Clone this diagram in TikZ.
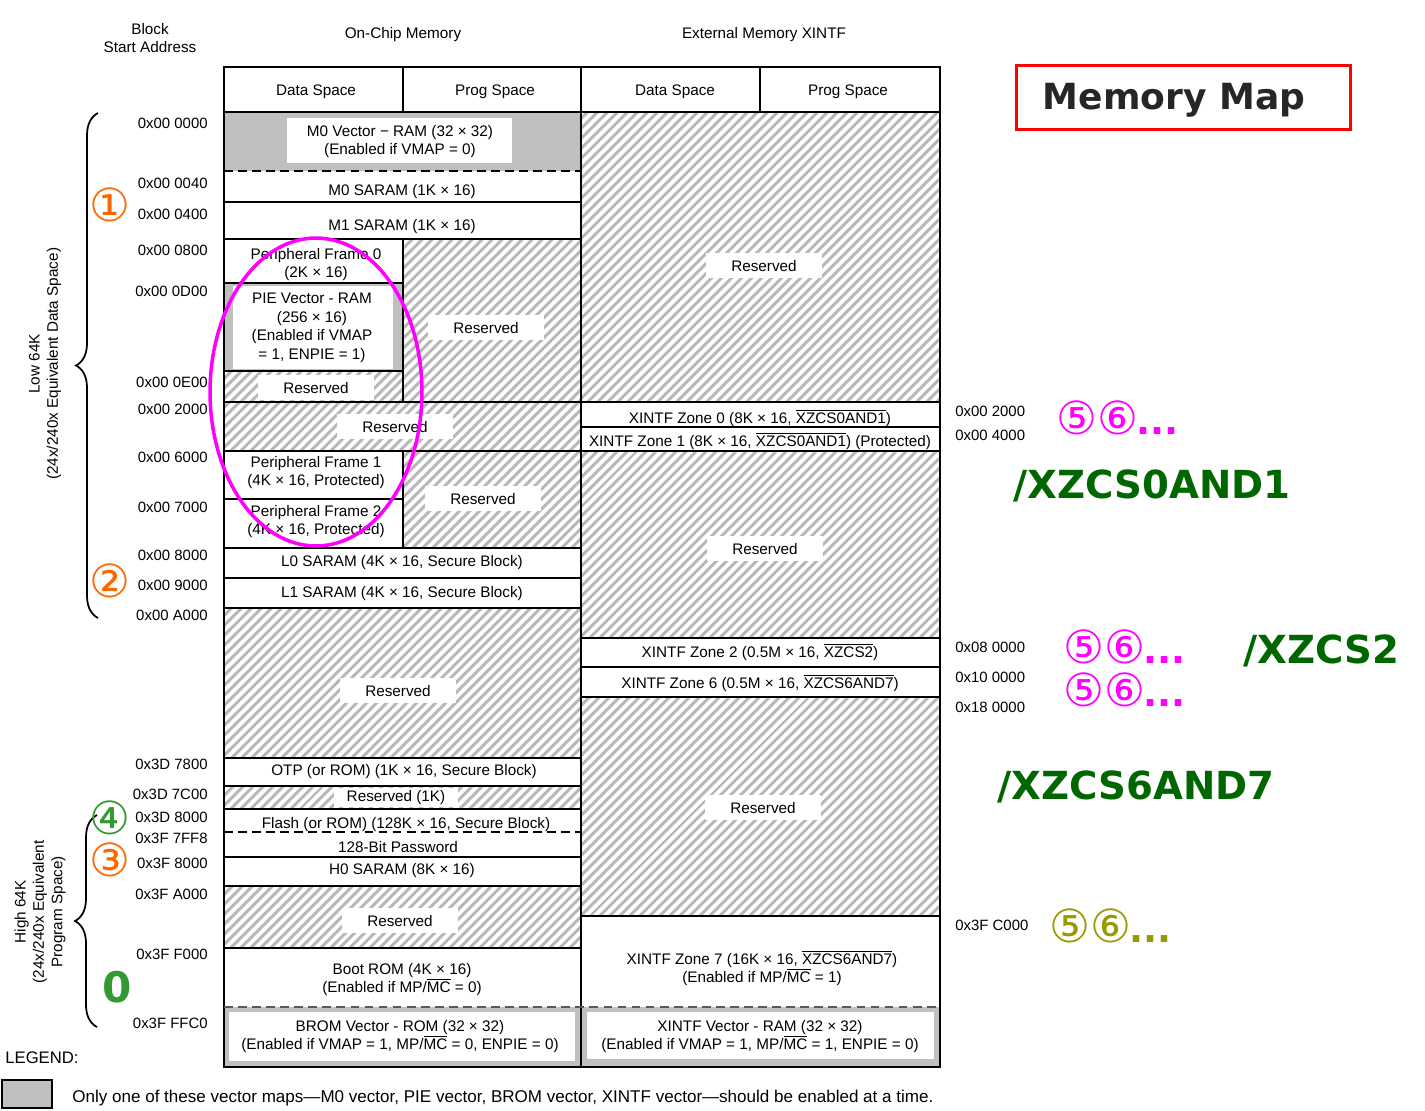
\documentclass[tikz,border=0pt]{standalone}
\usepackage{fontspec}
\setmainfont{Liberation Sans}
\newfontfamily\markfont{DejaVu Sans}
\usetikzlibrary{patterns.meta,decorations.pathreplacing}

\colorlet{vecgray}{black!25}
\colorlet{hatchgray}{black!28}
\definecolor{numorange}{HTML}{FF6600}
\definecolor{numgreen}{HTML}{339933}
\definecolor{numolive}{HTML}{999900}
\definecolor{csgreen}{HTML}{006600}
\definecolor{ringmag}{HTML}{FF00FF}

\newcommand{\ovl}[1]{$\overline{\mbox{#1}}$}
\newcommand{\moredots}{\kern-1pt{\bfseries\fontsize{21}{24}\selectfont...}}

\tikzset{
  grid/.style={line width=1.6pt},
  halfsep/.style={line width=1.6pt, dash pattern=on 5pt off 3pt},
  rsvd/.style={pattern={Lines[angle=45,distance=4pt,line width=1.8pt]}, pattern color=hatchgray},
  lbl/.style={font=\fontsize{8.7}{10.5}\selectfont, align=center, inner sep=1pt, yshift=-1pt},
  tag/.style={lbl, fill=white, inner xsep=0.5cm, inner ysep=0.14cm},
  addr/.style={font=\fontsize{8.5}{10}\selectfont, inner sep=0pt, yshift=-1pt},
  numark/.style={font=\markfont\fontsize{26}{28}\selectfont, inner sep=0pt,
                 text height=0.75em, text depth=0.1em, yshift=-6.2pt},
  cs/.style={font=\markfont\bfseries\fontsize{22}{24}\selectfont, text=csgreen, inner sep=0pt},
  bracket/.style={decorate, decoration={brace, amplitude=0.44cm}, line width=1pt},
}

\begin{document}
\begin{tikzpicture}[x=0.02cm, y=-0.02cm]
    \useasboundingbox (0,0) rectangle (1425,1110);

    % reserved areas (hatched)
    \fill[rsvd] (403,239) rectangle (581,402);
    \fill[rsvd] (224,371) rectangle (403,402);
    \fill[rsvd] (224,402) rectangle (581,451);
    \fill[rsvd] (403,451) rectangle (581,548);
    \fill[rsvd] (224,608) rectangle (581,758);
    \fill[rsvd] (224,786) rectangle (581,809);
    \fill[rsvd] (224,886) rectangle (581,948);
    \fill[rsvd] (581,112) rectangle (940,402);
    \fill[rsvd] (581,451) rectangle (940,638);
    \fill[rsvd] (581,697) rectangle (940,916);

    % vector maps (gray frame, white inside)
    \fill[vecgray] (224,112) rectangle (581,171);
    \fill[white] (287,118) rectangle (512,163);
    \fill[vecgray] (224,283) rectangle (403,371);
    \fill[white] (233,286) rectangle (393,369);
    \fill[vecgray] (224,1007) rectangle (581,1067);
    \fill[white] (229,1012) rectangle (575,1061);
    \fill[vecgray] (581,1007) rectangle (940,1067);
    \fill[white] (587,1012) rectangle (934,1059);

    % frame and row lines
    \draw[grid] (224,67) rectangle (940,1067);
    \draw[grid] (581,67) -- (581,1067);
    \draw[grid] (403,67) -- (403,112) (760,67) -- (760,112);
    \draw[grid] (403,239) -- (403,402) (403,451) -- (403,548);
    \draw[grid] (224,112) -- (940,112);
    \draw[grid] (224,202) -- (581,202) (224,239) -- (581,239)
                (224,402) -- (581,402) (224,451) -- (581,451)
                (224,548) -- (581,548) (224,578) -- (581,578)
                (224,608) -- (581,608) (224,758) -- (581,758)
                (224,786) -- (581,786) (224,809) -- (581,809)
                (224,857) -- (581,857) (224,886) -- (581,886)
                (224,948) -- (581,948);
    \draw[grid] (224,283) -- (403,283) (224,371) -- (403,371) (224,499) -- (403,499);
    \draw[grid] (581,402) -- (940,402) (581,427) -- (940,427)
                (581,451) -- (940,451) (581,638) -- (940,638)
                (581,667) -- (940,667) (581,697) -- (940,697)
                (581,916) -- (940,916);
    \draw[halfsep] (224,171) -- (581,171);
    \draw[halfsep] (224,832) -- (581,832);
    \draw[halfsep, black!65] (224,1007) -- (940,1007);

    % column headers
    \node[lbl] (hblock) at (150,36) {Block\\Start Address};
    \node[lbl] (honchip) at (403,33) {On-Chip Memory};
    \node[lbl] (hext) at (764,33) {External Memory XINTF};
    \node[lbl] (hdata1) at (316,90) {Data Space};
    \node[lbl] (hprog1) at (495,90) {Prog Space};
    \node[lbl] (hdata2) at (675,90) {Data Space};
    \node[lbl] (hprog2) at (848,90) {Prog Space};

    % on-chip blocks
    \node[lbl] (m0vec) at (400,140) {M0 Vector − RAM (32 × 32)\\(Enabled if VMAP = 0)};
    \node[lbl] (m0sa) at (402,190) {M0 SARAM (1K × 16)};
    \node[lbl] (m1sa) at (402,225) {M1 SARAM (1K × 16)};
    \node[lbl] (pf0) at (316,263) {Peripheral Frame 0\\(2K × 16)};
    \node[lbl] (pievec) at (312,326) {PIE Vector - RAM\\(256 × 16)\\(Enabled if VMAP\\= 1, ENPIE = 1)};
    \node[tag] (rsv1) at (316,386) {Reserved};
    \node[tag] (rsv2) at (486,326) {Reserved};
    \node[tag] (rsv3) at (395,425) {Reserved};
    \node[lbl] (pf1) at (316,471) {Peripheral Frame 1\\(4K × 16, Protected)};
    \node[lbl] (pf2) at (316,520) {Peripheral Frame 2\\(4K × 16, Protected)};
    \node[tag] (rsv4) at (483,497) {Reserved};
    \node[lbl] (l0sa) at (402,561) {L0 SARAM (4K × 16, Secure Block)};
    \node[lbl] (l1sa) at (402,592) {L1 SARAM (4K × 16, Secure Block)};
    \node[tag] (rsv5) at (398,689) {Reserved};
    \node[lbl] (otp) at (404,770) {OTP (or ROM) (1K × 16, Secure Block)};
    \node[tag, inner xsep=0.25cm, inner ysep=0.05cm] (rsv6) at (396,796) {Reserved (1K)};
    \node[lbl] (flash) at (406,823) {Flash (or ROM) (128K × 16, Secure Block)};
    \node[lbl] (passwd) at (398,845) {128-Bit Password};
    \node[lbl] (h0sa) at (402,869) {H0 SARAM (8K × 16)};
    \node[tag] (rsv7) at (400,919) {Reserved};
    \node[lbl] (bootrom) at (402,978) {Boot ROM (4K × 16)\\(Enabled if MP/\ovl{MC} = 0)};
    \node[lbl] (bromvec) at (400,1035) {BROM Vector - ROM (32 × 32)\\(Enabled if VMAP = 1, MP/\ovl{MC} = 0, ENPIE = 0)};

    % external blocks
    \node[tag] (rsv8) at (764,264) {Reserved};
    \node[lbl] (zone0) at (760,416) {XINTF Zone 0 (8K × 16, \ovl{XZCS0AND1})};
    \node[lbl] (zone1) at (760,439) {XINTF Zone 1 (8K × 16, \ovl{XZCS0AND1}) (Protected)};
    \node[tag] (rsv9) at (765,547) {Reserved};
    \node[lbl] (zone2) at (760,650) {XINTF Zone 2 (0.5M × 16, \ovl{XZCS2})};
    \node[lbl] (zone6) at (760,681) {XINTF Zone 6 (0.5M × 16, \ovl{XZCS6AND7})};
    \node[tag] (rsv10) at (763,806) {Reserved};
    \node[lbl] (zone7) at (762,966) {XINTF Zone 7 (16K × 16, \ovl{XZCS6AND7})\\(Enabled if MP/\ovl{MC} = 1)};
    \node[lbl] (xvec) at (760,1035) {XINTF Vector - RAM (32 × 32)\\(Enabled if VMAP = 1, MP/\ovl{MC} = 1, ENPIE = 0)};

    % start addresses, left
    \node[addr, anchor=east] (a00) at (208,122) {0x00 0000};
    \node[addr, anchor=east] (a01) at (208,182) {0x00 0040};
    \node[addr, anchor=east] (a02) at (208,213) {0x00 0400};
    \node[addr, anchor=east] (a03) at (208,249) {0x00 0800};
    \node[addr, anchor=east] (a04) at (208,290) {0x00 0D00};
    \node[addr, anchor=east] (a05) at (208,381) {0x00 0E00};
    \node[addr, anchor=east] (a06) at (208,408) {0x00 2000};
    \node[addr, anchor=east] (a07) at (208,456) {0x00 6000};
    \node[addr, anchor=east] (a08) at (208,506) {0x00 7000};
    \node[addr, anchor=east] (a09) at (208,554) {0x00 8000};
    \node[addr, anchor=east] (a10) at (208,584) {0x00 9000};
    \node[addr, anchor=east] (a11) at (208,614) {0x00 A000};
    \node[addr, anchor=east] (a12) at (208,763) {0x3D 7800};
    \node[addr, anchor=east] (a13) at (208,793) {0x3D 7C00};
    \node[addr, anchor=east] (a14) at (208,816) {0x3D 8000};
    \node[addr, anchor=east] (a15) at (208,837) {0x3F 7FF8};
    \node[addr, anchor=east] (a16) at (208,862) {0x3F 8000};
    \node[addr, anchor=east] (a17) at (208,893) {0x3F A000};
    \node[addr, anchor=east] (a18) at (208,953) {0x3F F000};
    \node[addr, anchor=east] (a19) at (208,1022) {0x3F FFC0};

    % start addresses, right
    \node[addr, anchor=west] (b00) at (955,410) {0x00 2000};
    \node[addr, anchor=west] (b01) at (955,434) {0x00 4000};
    \node[addr, anchor=west] (b02) at (955,646) {0x08 0000};
    \node[addr, anchor=west] (b03) at (955,676) {0x10 0000};
    \node[addr, anchor=west] (b04) at (955,706) {0x18 0000};
    \node[addr, anchor=west] (b05) at (955,924) {0x3F C000};

    % braces
    \draw[bracket] (98,618) -- (98,113);
    \node[lbl, rotate=90] (lowtxt) at (45,362) {Low 64K\\(24x/240x Equivalent Data Space)};
    \draw[bracket] (97,1027) -- (97,815);
    \node[lbl, rotate=90] (hightxt) at (40,910) {High 64K\\(24x/240x Equivalent\\Program Space)};

    % numbered marks
    \node[numark, text=numorange] (n1) at (110,205) {①};
    \node[numark, text=numorange] (n2) at (110,581) {②};
    \node[numark, text=numgreen] (n4) at (110,818) {④};
    \node[numark, text=numorange] (n3) at (110,860) {③};
    \node[numark, text=numgreen, font=\markfont\bfseries\fontsize{24}{26}\selectfont] (n0) at (117,986) {0};
    \node[numark, text=ringmag, anchor=west] (c1) at (1056,418) {⑤⑥\moredots};
    \node[numark, text=ringmag, anchor=west] (c2) at (1063,647) {⑤⑥\moredots};
    \node[numark, text=ringmag, anchor=west] (c3) at (1063,690) {⑤⑥\moredots};
    \node[numark, text=numolive, anchor=west] (c4) at (1049,926) {⑤⑥\moredots};

    % chip select names
    \node[cs, anchor=west] (cs01) at (1013,486) {/XZCS0AND1};
    \node[cs, anchor=west] (cs2) at (1243,651) {/XZCS2};
    \node[cs, anchor=west] (cs67) at (997,787) {/XZCS6AND7};

    % title
    \draw[red, line width=1.7pt] (1016,65) rectangle (1350,129);
    \node[font=\markfont\bfseries\fontsize{20.5}{24}\selectfont, text=black!85] (title) at (1174,100) {Memory Map};

    % legend
    \node[font=\fontsize{9.5}{11}\selectfont, anchor=west, inner sep=0pt] (legend) at (5,1058) {LEGEND:};
    \draw[line width=1.1pt, fill=vecgray] (2,1080) rectangle (52,1108);
    \node[font=\fontsize{9.7}{11}\selectfont, anchor=west, inner sep=0pt] (legtxt) at (72,1098)
        {Only one of these vector maps—M0 vector, PIE vector, BROM vector, XINTF vector—should be enabled at a time.};

    % highlighted region
    \draw[ringmag, line width=2pt] (316,392) ellipse [x radius=2.12cm, y radius=3.08cm];
\end{tikzpicture}
\end{document}
